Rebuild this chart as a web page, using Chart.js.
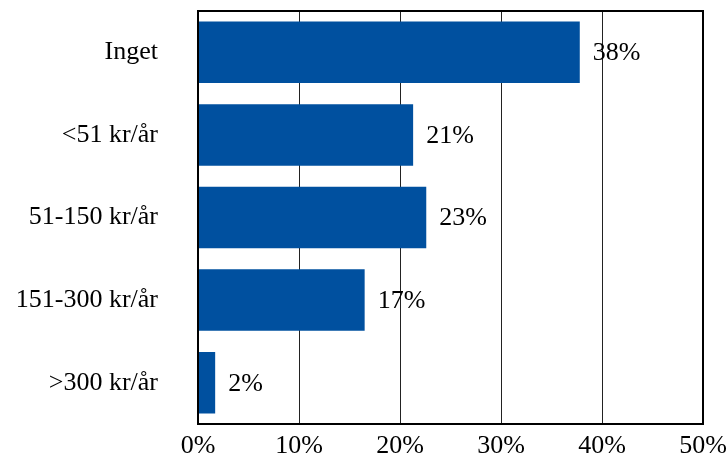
<!DOCTYPE html>
<html lang="sv">
<head>
    <meta charset="UTF-8">
    <title>Kostnad</title>
    <style>
        html, body { margin: 0; padding: 0; background: #ffffff; }
        #wrap { width: 728px; height: 461px; }
    </style>
</head>
<body>
<div id="wrap"><canvas id="myChart"></canvas></div>

<script src="https://cdn.jsdelivr.net/npm/chart.js"></script>
<script>
    const kategorier = ['Inget', '<51 kr/år', '51-150 kr/år', '151-300 kr/år', '>300 kr/år'];
    const andelar = [37.8, 21.3, 22.6, 16.5, 1.7];
    const xTicks = [0, 10, 20, 30, 40, 50];

    const font = {family: "'Liberation Serif', 'Times New Roman', serif", size: 26};

    // etiketter till höger om staplarna + ram runt diagramytan
    const etiketter = {
        id: 'etiketter',
        afterDatasetsDraw(chart) {
            const ctx = chart.ctx;
            const meta = chart.getDatasetMeta(0);
            ctx.save();
            ctx.font = `${font.size}px ${font.family}`;
            ctx.fillStyle = '#000';
            ctx.textBaseline = 'middle';
            ctx.textAlign = 'left';
            meta.data.forEach((bar, i) => {
                ctx.fillText(Math.round(andelar[i]) + '%', bar.x + 13, bar.y + 1);
            });
            ctx.restore();
        },
        afterDraw(chart) {
            const a = chart.chartArea;
            const ctx = chart.ctx;
            ctx.save();
            ctx.strokeStyle = '#000';
            ctx.lineWidth = 2;
            ctx.strokeRect(a.left, a.top, a.right - a.left, a.bottom - a.top);
            ctx.restore();
        }
    };

    new Chart(document.getElementById('myChart'), {
        type: 'bar',
        data: {
            labels: kategorier,
            datasets: [{
                data: andelar,
                backgroundColor: '#00509f',
                borderWidth: 0,
                barPercentage: 0.745,
                categoryPercentage: 1
            }]
        },
        options: {
            indexAxis: 'y',
            responsive: true,
            maintainAspectRatio: false,
            animation: false,
            layout: {padding: {top: 11, right: 25, left: 0, bottom: 0}},
            plugins: {legend: {display: false}, tooltip: {enabled: false}},
            scales: {
                x: {
                    min: 0,
                    max: 50,
                    z: 1,
                    afterBuildTicks: (s) => { s.ticks = xTicks.map(v => ({value: v})); },
                    afterFit: (s) => { s.height = 37; s.paddingLeft = 0; s.paddingRight = 0; },
                    grid: {color: '#222', lineWidth: 1, drawTicks: false},
                    border: {display: false},
                    ticks: {
                        font: font,
                        color: '#000',
                        padding: 7,
                        maxRotation: 0,
                        callback: (v) => v + '%'
                    }
                },
                y: {
                    afterFit: (s) => { s.width = 198; s.paddingTop = 0; s.paddingBottom = 0; },
                    grid: {display: false},
                    border: {display: false},
                    ticks: {font: font, color: '#000', padding: 32}
                }
            }
        },
        plugins: [etiketter]
    });
</script>
</body>
</html>
